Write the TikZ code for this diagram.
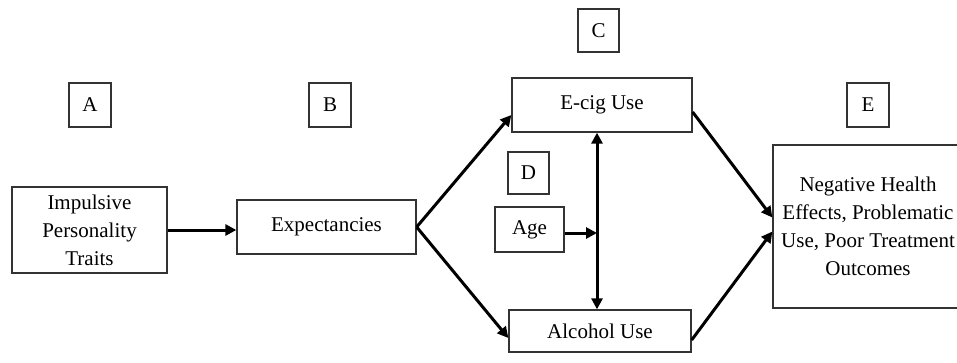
\documentclass[tikz,border=0pt]{standalone}
\usepackage{fontspec}
\setmainfont{Liberation Serif}
\usetikzlibrary{arrows.meta}
\begin{document}
\begin{tikzpicture}[x=1pt,y=-1pt,
  box/.style={draw=black!80,line width=1.3pt,inner sep=0pt,align=center,
    font=\fontsize{21}{28}\selectfont},
  arr/.style={line width=3pt,-{Triangle[length=11pt,width=11pt]}},
  arrb/.style={line width=3pt,{Triangle[length=11pt,width=11pt]}-{Triangle[length=11pt,width=11pt]}}]
\useasboundingbox (0,0) rectangle (957,362);
\node[box,minimum width=42pt,minimum height=44pt] (la) at (90,105) {A};
\node[box,minimum width=42pt,minimum height=44pt] (lb) at (330,105) {B};
\node[box,minimum width=41pt,minimum height=43pt] (lc) at (598.5,30.5) {C};
\node[box,minimum width=41pt,minimum height=42pt] (ld) at (528.5,173) {D};
\node[box,minimum width=42pt,minimum height=44pt] (le) at (868,105) {E};
\node[box,minimum width=155pt,minimum height=86pt] (imp) at (89.5,230) {Impulsive\\Personality\\Traits};
\node[box,minimum width=179pt,minimum height=54pt] (exp) at (326.5,227) {Expectancies};
\node[box,minimum width=180pt,minimum height=54pt] (ecig) at (602,105) {E-cig Use};
\node[box,minimum width=69pt,minimum height=45pt] (age) at (529.5,229.5) {Age};
\node[box,minimum width=182pt,minimum height=42pt] (alc) at (600,331) {Alcohol Use};
\node[box,minimum width=190pt,minimum height=163pt] (neg) at (868,226.5) {Negative Health\\Effects, Problematic\\Use, Poor Treatment\\Outcomes};
\coordinate (mx) at (597,233);
\draw[arr] (imp.east) -- (imp.east -| exp.west);
\draw[arr] (exp.east) -- ([yshift=-10pt]ecig.west);
\draw[arr] (exp.east) -- ([yshift=-7pt]alc.west);
\draw[arr] ([yshift=-7pt]ecig.east) -- ([yshift=9pt]neg.west);
\draw[arr] ([yshift=-9pt]alc.east) -- ([yshift=-5pt]neg.west);
\draw[arrb] (mx |- ecig.south) -- (mx |- alc.north);
\draw[arr] (age.east |- mx) -- (mx);
\end{tikzpicture}
\end{document}
